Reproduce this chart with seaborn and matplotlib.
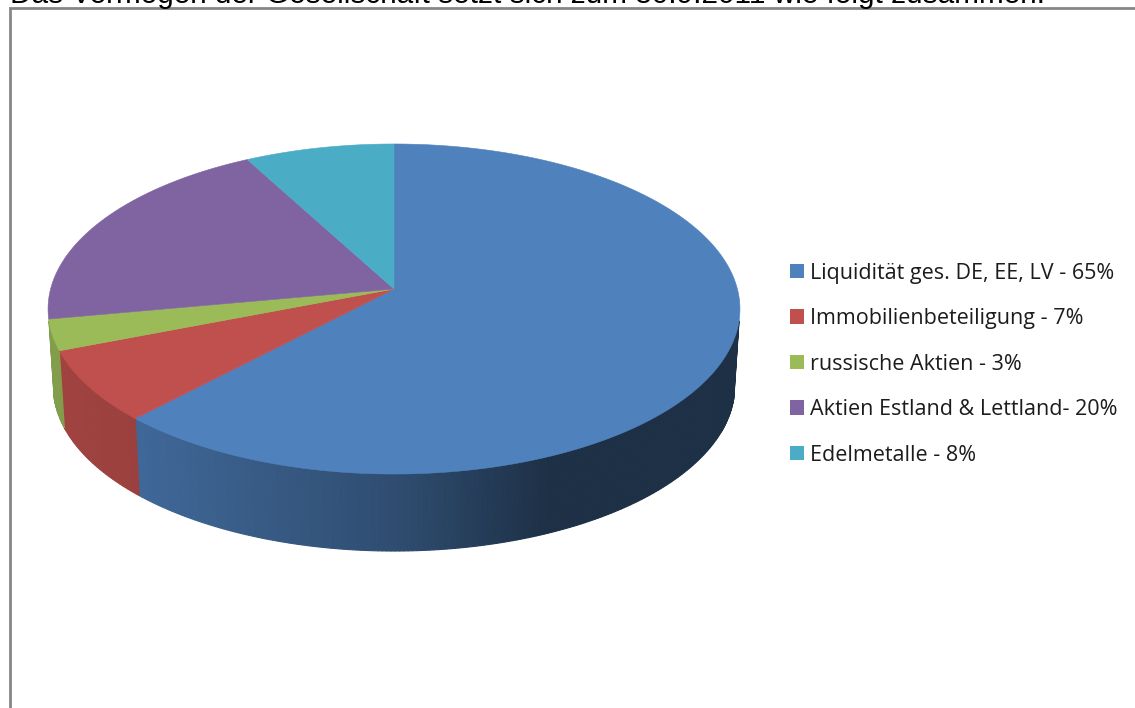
import numpy as np
import seaborn as sns
import matplotlib
matplotlib.use("Agg")
import matplotlib.pyplot as plt
from matplotlib.patches import Patch, Polygon

categories = ["Liquidität ges. DE, EE, LV - 65%", "Immobilienbeteiligung - 7%",
              "russische Aktien - 3%", "Aktien Estland & Lettland- 20%", "Edelmetalle - 8%"]
shares = [65, 7, 3, 20, 8]
top_colors = ["#4F81BD", "#C0504D", "#9BBB59", "#8064A2", "#4BACC6"]
heading = "Das Vermögen der Gesellschaft setzt sich zum 30.9.2011 wie folgt zusammen:"

sns.set_theme(style="white")
plt.rcParams["font.family"] = ["Open Sans", "DejaVu Sans"]

fig = plt.figure(figsize=(11.35, 7.08), dpi=100)
ax = fig.add_axes([0, 0, 1, 1])
ax.set_xlim(0, 1135)
ax.set_ylim(708, 0)
ax.axis("off")

# Tilted disc: a circle seen in perspective, with a lower rim for the thickness
CX, TOP_Y, DEPTH = 394.0, 289.0, 77.0
HALF_W, HALF_H, PERSP = 343.4, 162.6, 0.1212
WALL_FROM, WALL_TO = np.radians(101), np.radians(259)


def project(t, level=0.0):
    """Rim point at clockwise angle t (radians from 12 o'clock); level 0 top, 1 bottom."""
    gx, gy = np.sin(t), np.cos(t)
    w = 1 + PERSP * gy
    shrink = 1 - 0.015 * level
    return CX + HALF_W * shrink * gx / w, TOP_Y + DEPTH * level - HALF_H * gy / w


def view_angle(t):
    """Slight foreshortening of the slice boundaries towards the viewer's side."""
    return t - np.radians(4.5) * np.sin(t / 2) ** 2


def side_shade(base, x):
    """Darken a wall colour from left to right."""
    rgb = np.array(matplotlib.colors.to_rgb(base))
    f = np.interp(x, [50, 140, 400, 550, 740], [0.84, 0.80, 0.59, 0.37, 0.37])
    return tuple(rgb * f)


fractions = np.array(shares, dtype=float) / sum(shares)
edges = view_angle(np.concatenate([[0], np.cumsum(fractions)]) * 2 * np.pi)
edges[-1] = 2 * np.pi

# Side walls of the part of the rim that faces the viewer
for start, stop, color in zip(edges[:-1], edges[1:], top_colors):
    lo, hi = max(start, WALL_FROM), min(stop, WALL_TO)
    if hi <= lo:
        continue
    ts = np.linspace(lo, hi, int(max(3, (hi - lo) * 90)))
    for a, b in zip(ts[:-1], ts[1:]):
        xa0, ya0 = project(a)
        xb0, yb0 = project(b)
        xa1, ya1 = project(a, 1)
        xb1, yb1 = project(b, 1)
        shade = side_shade(color, (xa0 + xb0) / 2)
        ax.add_patch(Polygon([(xa0, ya0), (xb0, yb0), (xb1, yb1), (xa1, ya1)],
                             closed=True, fc=shade, ec=shade, lw=0.8))

# Top faces of the wedges
for start, stop, color in zip(edges[:-1], edges[1:], top_colors):
    ts = np.linspace(start, stop, 200)
    xs, ys = project(ts)
    ax.add_patch(Polygon(np.vstack([[CX, TOP_Y], np.column_stack([xs, ys])]),
                         closed=True, fc=color, ec=color, lw=0.4))

handles = [Patch(fc=c, ec=c, lw=0) for c in top_colors]
ax.legend(handles, categories, loc="upper left", bbox_to_anchor=(790 / 1135, 1 - 262.5 / 708),
          frameon=False, fontsize=15.5, labelcolor="#1c1c1c", handlelength=0.65, handleheight=0.65,
          handletextpad=0.28, labelspacing=1.14, borderpad=0, borderaxespad=0)

# Worksheet frame and the heading cut off by the top edge
ax.plot([9.5, 9.5, 1135], [708, 8, 8], color="#868686", lw=2, solid_joinstyle="miter")
ax.text(10, 3, heading, family="Liberation Sans", fontsize=21.4, color="black", va="baseline", ha="left")

fig.savefig("out.png", dpi=100)
